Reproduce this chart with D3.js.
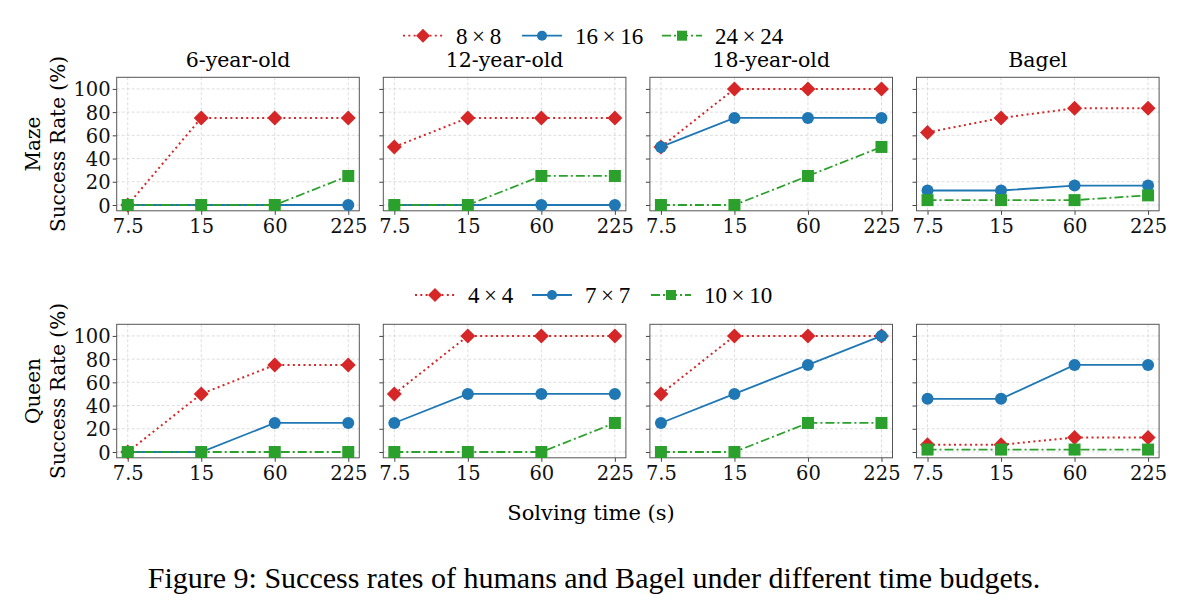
<!DOCTYPE html>
<html><head><meta charset="utf-8">
<script src="https://cdn.jsdelivr.net/npm/d3@7"></script>
<style>body{margin:0;background:#fff}</style>
</head><body>
<svg id="c" width="1191" height="614"></svg>
<script>
const times = ["7.5","15","60","225"];
const panels = ["6-year-old","12-year-old","18-year-old","Bagel"];
const yTicks = [0,20,40,60,80,100];
const mazeSizes = ["8\u2009×\u20098","16\u2009×\u200916","24\u2009×\u200924"];
const queenSizes = ["4\u2009×\u20094","7\u2009×\u20097","10\u2009×\u200910"];
// Maze success rates (%), per panel: [small, medium, large]
const maze6  = [[0,75,75,75],[0,0,0,0],[0,0,0,25]];
const maze12 = [[50,75,75,75],[0,0,0,0],[0,0,25,25]];
const maze18 = [[50,100,100,100],[50,75,75,75],[0,0,25,50]];
const mazeBagel = [[62.5,75,83.3,83.3],[12.5,12.5,16.7,16.7],[4.2,4.2,4.2,8.3]];
// Queen success rates (%)
const queen6  = [[0,50,75,75],[0,0,25,25],[0,0,0,0]];
const queen12 = [[50,100,100,100],[25,50,50,50],[0,0,0,25]];
const queen18 = [[50,100,100,100],[25,50,75,100],[0,0,25,25]];
const queenBagel = [[6.25,6.25,12.5,12.5],[45.8,45.8,75,75],[2.1,2.1,2.1,2.1]];

const rows = [
  {task:"Maze", sizes:mazeSizes, data:[maze6,maze12,maze18,mazeBagel], top:77.3, legendY:35.7, legendX:[403,522,662]},
  {task:"Queen", sizes:queenSizes, data:[queen6,queen12,queen18,queenBagel], top:324.3, legendY:295, legendX:[415,532,651]}
];
const colors = ["#d62728","#1f77b4","#2ca02c"];
const dashes = ["2,3.3","none","9,3,2,3"];
const panelW = 242.6, panelH = 133.5, panelStep = 266.6, panelX0 = 116.7;
const svg = d3.select("#c");
const serif = "DejaVu Serif";

function marker(g, k, x, y, s){
  if(k===0){
    const r=s?7:7.5;
    g.append("path").attr("d",`M${x},${y-r}L${x+r},${y}L${x},${y+r}L${x-r},${y}Z`).attr("fill",colors[0]);
  } else if(k===1){
    g.append("circle").attr("cx",x).attr("cy",y).attr("r",s?5:6).attr("fill",colors[1]);
  } else {
    const h=s?5:6;
    g.append("rect").attr("x",x-h).attr("y",y-h).attr("width",2*h).attr("height",2*h).attr("fill",colors[2]);
  }
}

rows.forEach((row,ri)=>{
  const lg = svg.append("g");
  row.sizes.forEach((s,k)=>{
    const lx=row.legendX[k], ly=row.legendY;
    lg.append("line").attr("x1",lx).attr("x2",lx+40).attr("y1",ly).attr("y2",ly)
      .attr("stroke",colors[k]).attr("stroke-width",1.8).attr("stroke-dasharray",dashes[k]);
    marker(lg,k,lx+20,ly,true);
    lg.append("text").attr("x",lx+53).attr("y",ly+8).attr("font-family","Liberation Serif")
      .attr("font-size",23).text(s);
  });
  const cy = row.top + panelH/2;
  svg.append("text").attr("transform",`translate(40,${cy}) rotate(-90)`).attr("text-anchor","middle")
    .attr("font-family",serif).attr("font-size",20).text(row.task);
  svg.append("text").attr("transform",`translate(65,${cy}) rotate(-90)`).attr("text-anchor","middle")
    .attr("font-family",serif).attr("font-size",20).text("Success Rate (%)");

  row.data.forEach((pd,pi)=>{
    const x0 = panelX0 + pi*panelStep;
    const g = svg.append("g").attr("transform",`translate(${x0},${row.top})`);
    const x = d3.scaleLinear().domain([-0.15,3.15]).range([0,panelW]);
    const y = d3.scaleLinear().domain([-5,110]).range([panelH,0]);
    g.append("g").selectAll("line").data(times).join("line")
      .attr("x1",(d,i)=>x(i)).attr("x2",(d,i)=>x(i)).attr("y1",0).attr("y2",panelH)
      .attr("stroke","#d4d4d4").attr("stroke-width",0.8).attr("stroke-dasharray","3,2");
    g.append("g").selectAll("line").data(yTicks).join("line")
      .attr("x1",0).attr("x2",panelW).attr("y1",d=>y(d)).attr("y2",d=>y(d))
      .attr("stroke","#d4d4d4").attr("stroke-width",0.8).attr("stroke-dasharray","3,2");
    const xa = g.append("g").attr("transform",`translate(0,${panelH})`)
      .call(d3.axisBottom(x).tickValues([0,1,2,3]).tickFormat(i=>times[i]).tickSize(4).tickPadding(3));
    const ya = g.append("g")
      .call(d3.axisLeft(y).tickValues(yTicks).tickSize(4).tickPadding(2).tickFormat(pi===0?(d=>d):(()=>"")));
    [xa,ya].forEach(a=>{
      a.select(".domain").remove();
      a.selectAll("line").attr("stroke","#444");
      a.selectAll("text").attr("font-family",serif).attr("font-size",19.5).attr("fill","#111");
    });
    ya.selectAll("text").attr("dy","0.36em");
    xa.selectAll("text").attr("dy","0.76em");
    g.append("rect").attr("width",panelW).attr("height",panelH).attr("fill","none")
      .attr("stroke","#555").attr("stroke-width",1);
    if(ri===0) g.append("text").attr("x",panelW/2).attr("y",-10).attr("text-anchor","middle")
        .attr("font-family",serif).attr("font-size",20.5).text(panels[pi]);
    pd.forEach((vals,k)=>{
      const line = d3.line().x((d,i)=>x(i)).y(d=>y(d));
      g.append("path").datum(vals).attr("d",line).attr("fill","none")
        .attr("stroke",colors[k]).attr("stroke-width",k===0?2:1.8).attr("stroke-dasharray",dashes[k]);
      vals.forEach((v,i)=>marker(g,k,x(i),y(v),false));
    });
  });
});
svg.append("text").attr("x",591).attr("y",520).attr("text-anchor","middle")
  .attr("font-family",serif).attr("font-size",21).text("Solving time (s)");
svg.append("text").attr("x",594).attr("y",588).attr("text-anchor","middle")
  .attr("font-family","Liberation Serif").attr("font-size",30)
  .text("Figure 9: Success rates of humans and Bagel under different time budgets.");
</script>
</body></html>
